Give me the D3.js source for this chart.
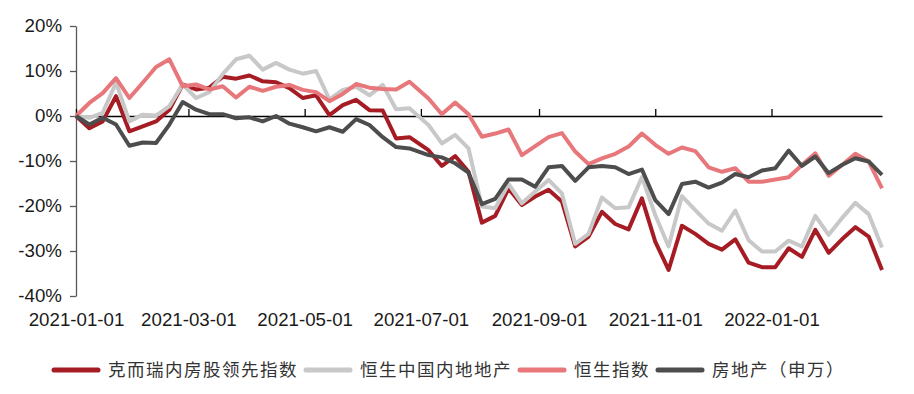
<!DOCTYPE html>
<html>
<head>
<meta charset="utf-8">
<script src="https://cdn.jsdelivr.net/npm/d3@7"></script>
<style>
  body { margin: 0; background: #fff; }
  text { font-family: "Liberation Sans", Arial, sans-serif; }
</style>
</head>
<body>
<div id="chart"></div>
<script>
// weekly observation dates
var dates = [
  "2021-01-01","2021-01-08","2021-01-15","2021-01-22","2021-01-29","2021-02-05","2021-02-12","2021-02-19",
  "2021-02-26","2021-03-05","2021-03-12","2021-03-19","2021-03-26","2021-04-02","2021-04-09","2021-04-16",
  "2021-04-23","2021-04-30","2021-05-07","2021-05-14","2021-05-21","2021-05-28","2021-06-04","2021-06-11",
  "2021-06-18","2021-06-25","2021-07-05","2021-07-12","2021-07-19","2021-07-26","2021-08-02","2021-08-09",
  "2021-08-16","2021-08-23","2021-08-30","2021-09-06","2021-09-13","2021-09-20","2021-09-27","2021-10-04",
  "2021-10-11","2021-10-18","2021-10-25","2021-11-01","2021-11-08","2021-11-15","2021-11-22","2021-11-29",
  "2021-12-06","2021-12-13","2021-12-20","2021-12-27","2022-01-03","2022-01-10","2022-01-17","2022-01-24",
  "2022-01-31","2022-02-07","2022-02-14","2022-02-21","2022-02-28"
];

// cumulative change, %
var cric = [0, -2.7, -1.2, 4.4, -3.4, -2.3, -1.2, 1.4, 7.0, 5.9, 6.3, 8.7, 8.3, 9.0, 7.7, 7.5,
  6.2, 4.0, 4.6, 0.2, 2.4, 3.6, 1.3, 1.2, -5.0, -4.7, -7.6, -11.1, -8.9, -12.4, -23.7, -22.2,
  -16.1, -19.8, -17.9, -16.4, -19.0, -29.0, -26.8, -21.3, -24.0, -25.2, -18.3, -27.9, -34.2, -24.4,
  -26.2, -28.4, -29.7, -27.4, -32.6, -33.6, -33.6, -29.4, -31.3, -25.3, -30.4, -27.4, -24.7, -26.8, -34.2];

var hsMainland = [0, -0.4, 0.7, 7.4, -1.2, 0.3, 0.1, 2.2, 7.0, 4.0, 5.3, 9.3, 12.6, 13.4, 10.3, 11.8,
  10.3, 9.4, 10.0, 3.7, 5.8, 6.5, 4.6, 6.9, 1.5, 1.7, -2.0, -6.1, -4.2, -7.2, -20.1, -20.5,
  -15.1, -19.4, -16.8, -14.2, -17.2, -28.4, -26.2, -18.1, -20.5, -20.3, -13.6, -22.0, -29.0, -17.8,
  -20.9, -23.9, -25.5, -21.0, -27.6, -30.1, -30.1, -27.7, -29.0, -22.2, -26.4, -22.7, -19.3, -21.8, -29.2];

var hsi = [0, 2.9, 5.1, 8.4, 4.0, 7.4, 10.9, 12.6, 6.6, 7.0, 5.9, 6.6, 4.1, 6.5, 5.6, 6.5,
  6.9, 5.8, 5.3, 3.3, 4.9, 7.1, 6.3, 6.0, 5.9, 7.6, 3.9, 0.4, 3.0, 0.4, -4.6, -3.9,
  -3.0, -8.7, -6.7, -4.7, -3.8, -7.9, -10.7, -9.4, -8.4, -6.8, -3.9, -6.4, -8.4, -7.0,
  -7.8, -11.4, -12.4, -11.6, -14.6, -14.6, -14.1, -13.6, -10.9, -8.3, -13.3, -10.9, -8.4, -10.1, -16.1];

var swRealEstate = [0, -1.9, -0.4, -1.9, -6.6, -5.9, -6.0, -1.9, 3.1, 1.4, 0.4, 0.4, -0.5, -0.3, -1.2, 0.0,
  -1.7, -2.5, -3.4, -2.5, -3.5, -0.7, -2.0, -4.7, -6.9, -7.2, -8.7, -9.2, -10.5, -12.6, -19.6, -18.4,
  -14.1, -14.1, -15.7, -11.4, -11.1, -14.4, -11.4, -11.1, -11.4, -12.9, -11.9, -18.7, -21.8, -15.1,
  -14.6, -15.9, -14.8, -12.9, -13.6, -12.1, -11.6, -7.7, -11.1, -9.0, -12.7, -10.9, -9.4, -10.1, -13.1];

var seriesNames = ["克而瑞内房股领先指数", "恒生中国内地地产", "恒生指数", "房地产（申万）"];
var seriesColors = ["#A61C24", "#C8C8C8", "#E8777B", "#4D4D4D"];
var yTicks = [-40, -30, -20, -10, 0, 10, 20];
var xTicks = ["2021-01-01", "2021-03-01", "2021-05-01", "2021-07-01", "2021-09-01", "2021-11-01", "2022-01-01"];

var svgWidth = 914;
var svgHeight = 394;
var margin = { top: 26, right: 32, bottom: 98, left: 76 };
var width = svgWidth - margin.left - margin.right;
var height = svgHeight - margin.top - margin.bottom;

var parse = d3.timeParse("%Y-%m-%d");
var dateObjs = dates.map(parse);
var allSeries = [cric, hsMainland, hsi, swRealEstate];

var svg = d3.select("#chart")
  .append("svg")
  .attr("width", svgWidth)
  .attr("height", svgHeight);

var chartGroup = svg.append("g")
  .attr("transform", `translate(${margin.left}, ${margin.top})`);

var xScale = d3.scaleTime()
  .domain([dateObjs[0], dateObjs[dateObjs.length - 1]])
  .range([0, width]);

var yScale = d3.scaleLinear()
  .domain([-40, 20])
  .range([height, 0]);

// y axis
var leftAxis = d3.axisLeft(yScale)
  .tickValues(yTicks)
  .tickSize(6)
  .tickSizeOuter(0)
  .tickPadding(8)
  .tickFormat(d => d + "%");

var yAxisG = chartGroup.append("g").call(leftAxis);
yAxisG.select(".domain").attr("stroke", "#595959").attr("stroke-width", 1.3);
yAxisG.selectAll(".tick line").attr("stroke", "#595959").attr("stroke-width", 1.3);
yAxisG.selectAll("text")
  .attr("font-size", "18.7px")
  .attr("fill", "#1a1a1a")
  .style("font-family", "'Liberation Sans', Arial, sans-serif");

// x axis line on zero, ticks pointing up
var xTickDates = xTicks.map(parse);
var zeroAxis = d3.axisBottom(xScale)
  .tickValues(xTickDates)
  .tickSize(-7)
  .tickSizeOuter(0)
  .tickFormat("");

var zeroG = chartGroup.append("g")
  .attr("transform", `translate(0, ${yScale(0)})`)
  .call(zeroAxis);
zeroG.select(".domain").attr("stroke", "#000").attr("stroke-width", 1.4);
zeroG.selectAll(".tick line").attr("stroke", "#000").attr("stroke-width", 1.3);

// date labels below the plot
var labelAxis = d3.axisBottom(xScale)
  .tickValues(xTickDates)
  .tickSize(0)
  .tickPadding(0)
  .tickFormat(d3.timeFormat("%Y-%m-%d"));

var labelG = chartGroup.append("g")
  .attr("transform", `translate(0, ${height + 17})`)
  .call(labelAxis);
labelG.select(".domain").remove();
labelG.selectAll("text")
  .attr("font-size", "18.7px")
  .attr("fill", "#1a1a1a")
  .style("font-family", "'Liberation Sans', Arial, sans-serif");

// lines
var line = d3.line()
  .x((d, i) => xScale(dateObjs[i]))
  .y(d => yScale(d));

allSeries.forEach(function(vals, k) {
  chartGroup.append("path")
    .datum(vals)
    .attr("fill", "none")
    .attr("stroke", seriesColors[k])
    .attr("stroke-width", 4)
    .attr("stroke-linejoin", "round")
    .attr("d", line);
});

// legend
var legend = svg.append("g").attr("transform", "translate(52, 370)");
var lx = 0;
seriesNames.forEach(function(name, k) {
  legend.append("line")
    .attr("x1", lx + 2).attr("x2", lx + 46)
    .attr("y1", 0).attr("y2", 0)
    .attr("stroke", seriesColors[k])
    .attr("stroke-width", 5)
    .attr("stroke-linecap", "round");
  var t = legend.append("text")
    .attr("x", lx + 56)
    .attr("y", 0)
    .attr("dy", "0.36em")
    .attr("font-size", "17.5px")
    .attr("letter-spacing", "1.5px")
    .attr("fill", "#333")
    .style("font-family", "'Noto Sans CJK SC', sans-serif")
    .text(name);
  lx += 56 + t.node().getComputedTextLength() + 6;
});
</script>
</body>
</html>
